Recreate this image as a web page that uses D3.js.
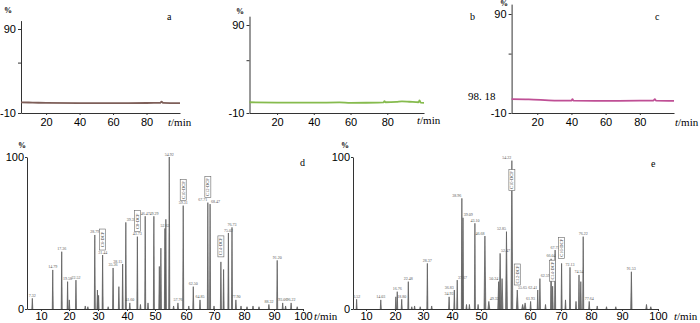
<!DOCTYPE html>
<html>
<head>
<meta charset="utf-8">
<script src="https://cdn.jsdelivr.net/npm/d3@7/dist/d3.min.js"></script>
<style>
html, body { margin: 0; padding: 0; background: #fff; }
svg { display: block; font-family: "Liberation Serif", "DejaVu Serif", serif; }
</style>
</head>
<body>
<svg id="chart" width="700" height="323"></svg>
<script>
// Achsen-Ticks
const topTicks = [20, 40, 60, 80];
const topYTicks = [-10, 50, 90];
const bottomTicks = [10, 20, 30, 40, 50, 60, 70, 80, 90, 100];

// Obere Spuren a, b, c: [t/min, %]
const traceA = [[5, 2.6], [12, 2.4], [20, 2.0], [40, 1.8], [60, 1.8], [80, 1.9], [88, 2.0], [89, 3.4], [90, 2.0], [100, 1.7]];
const traceB = [[5, 2.2], [20, 1.9], [40, 1.8], [54, 2.0], [60, 1.6], [75, 1.8], [78, 2.0], [78.5, 3.6], [79, 2.2], [85, 2.6], [88, 3.2], [92, 2.8], [97, 2.2], [97.6, 4.2], [98.2, 1.8], [100, 1.6]];
const traceC = [[5, 4.0], [15, 3.8], [30, 2.6], [40, 2.5], [40.6, 4.0], [41.2, 2.4], [60, 2.2], [80, 2.4], [88, 2.6], [88.8, 4.0], [89.5, 2.4], [100, 2.2]];

// Peaks d: [t (Achse), Höhe %, Beschriftung]
const peaksD = [
    [6.9, 7, "7.32"], [14.2, 25.7, "14.79"], [17.4, 37.7, "17.36"], [19.5, 18, "19.58"], [20.1, 6, ""],
    [22.4, 19, "22.52"], [25.6, 2, ""], [26.5, 1.5, ""], [28.9, 48.7, "28.79"], [29.8, 12.5, ""], [30.2, 9, ""],
    [31.6, 35.5, "31.44"], [33.5, 1.5, ""], [35.2, 27, "35.36"], [37.2, 14.7, ""], [38.5, 29.6, "38.15"],
    [39.6, 57, "39.39"], [41.0, 4, "41.60"], [43.7, 47.6, "43.73"], [44.8, 3, ""], [46.5, 61, "46.47"],
    [47.5, 4, ""], [49.6, 61, "49.29"], [51.4, 28, ""], [51.9, 40, ""], [53.2, 53, "52.62"], [53.5, 59, ""],
    [54.6, 100, "54.92"], [56.0, 2, ""], [57.4, 4, "57.76"], [59.1, 68, "59.31"], [61.0, 2, ""],
    [62.6, 14.7, "62.50"], [65.0, 6, "64.85"], [67.8, 70, "67.71"], [68.6, 69, "68.47"], [70.0, 2, ""],
    [72.3, 31, ""], [73.2, 26, ""], [74.8, 50, "75.02"], [76.0, 53.7, "76.73"], [77.3, 6, "77.90"],
    [79.0, 2, ""], [81.0, 1.5, ""], [83.0, 2, ""], [85.0, 1.5, ""], [88.3, 3, "88.32"], [91.1, 32, "91.20"],
    [93.0, 4, "93.06"], [94.0, 2, ""], [95.9, 4, "96.22"], [98.0, 1.5, ""]
];

// Peaks e: [t (Achse), Höhe %, Beschriftung]
const peaksE = [
    [6.4, 6.4, "6.52"], [15.1, 6, "14.03"], [20.3, 8, ""], [20.8, 11.4, "16.76"], [22.4, 6.4, "18.80"],
    [24.75, 18, "22.48"], [26, 1.5, ""], [27, 2, ""], [29, 1.5, ""], [31.5, 30, "28.37"], [33, 2, ""],
    [39.0, 8, "34.93"], [40.8, 12.5, "36.83"], [41.8, 19, "37.67"], [43.4, 72.8, "38.96"], [43.8, 60, "39.09"],
    [45, 3, ""], [46, 3, ""], [47.9, 56.4, "43.10"], [49, 3, ""], [50.8, 48, "46.68"], [51.6, 5, "49.32"],
    [53.6, 18, "50.24"], [53.9, 36.6, "52.47"], [54.3, 20, ""], [55.2, 50.9, "52.85"], [56.3, 97.6, "54.22"],
    [57.4, 12.5, "55.65"], [58.5, 3, ""], [59, 4, ""], [60.2, 5, "61.93"], [62.5, 12.5, "62.41"],
    [63.2, 20, "62.59"], [65, 3, ""], [66.8, 33, "66.04"], [67.3, 15, ""], [68.1, 38.8, "67.75"],
    [70.2, 30, ""], [71.5, 6, ""], [73, 27.4, "72.13"], [75, 5, ""], [76, 22.4, "74.54"], [76.6, 18, ""],
    [77.4, 47.6, "76.22"], [79.4, 5, "77.64"], [82, 2, ""], [85, 1.5, ""], [88, 1.5, ""],
    [92.6, 24.5, "91.53"], [96.8, 3, ""], [98, 1.5, ""]
];

// Kästchen mit Verbindungsnamen: [t des Peaks, Text]
const boxesD = [[31.6, "C6-DCP"], [43.7, "C8-DCP"], [59.1, "C10-DCP"], [67.8, "C12-DCP"], [72.3, "C14-DCP"]];
const boxesE = [[56.3, "C10-DCP"], [57.4, "C12-DCP"], [67.3, "C14-DCP"], [70.2, "C16-DCP"]];

const svg = d3.select("#chart");

// Obere Diagramme
function drawTop(trace, cfg) {
    const g = svg.append("g");
    const x = d3.scaleLinear().domain([5, 100]).range(cfg.xr);
    const y = d3.scaleLinear().domain([-10, 100]).range(cfg.yr);

    g.append("g")
        .attr("transform", `translate(0,${cfg.yr[0]})`)
        .call(d3.axisBottom(x).tickValues(topTicks).tickSize(2).tickSizeOuter(0).tickPadding(3))
        .call(a => a.selectAll("text").style("font-size", "11px"));

    g.append("g")
        .attr("transform", `translate(${cfg.xr[0]},0)`)
        .call(d3.axisLeft(y).tickValues(topYTicks).tickSize(3).tickSizeOuter(0).tickPadding(2)
            .tickFormat(d => d === 50 ? "" : String(d)))
        .call(a => a.selectAll("text").style("font-size", "11px"));

    g.selectAll(".domain, .tick line").attr("stroke", "#333");

    const line = d3.line().x(d => x(d[0])).y(d => y(d[1])).curve(d3.curveMonotoneX);
    g.append("path")
        .datum(trace)
        .attr("fill", "none")
        .attr("stroke", cfg.color)
        .attr("stroke-width", 1.8)
        .attr("d", line);

    g.append("text").attr("x", cfg.pct[0]).attr("y", cfg.pct[1])
        .style("font-size", "8px").style("font-weight", "bold").text("%");
    g.append("text").attr("x", cfg.letter[0]).attr("y", cfg.letter[1])
        .style("font-size", "10px").text(cfg.letter[2]);
    const u = g.append("text").attr("x", cfg.unit[0]).attr("y", cfg.unit[1]).style("font-size", "11px");
    u.append("tspan").style("font-style", "italic").text("t");
    u.append("tspan").text("/min");
}

drawTop(traceA, { xr: [21, 180], yr: [113, 20.6], color: "#7e5f59", pct: [4, 13], letter: [167, 20, "a"], unit: [168, 126] });
drawTop(traceB, { xr: [249.5, 424], yr: [113, 16.2], color: "#86bb4e", pct: [236, 14], letter: [470, 20, "b"], unit: [417, 124] });
drawTop(traceC, { xr: [511.6, 674], yr: [113, 4.1], color: "#bf4f95", pct: [500, 6], letter: [655, 20, "c"], unit: [675, 126] });

svg.append("text").attr("x", 468).attr("y", 100).style("font-size", "11px").text("98. 18");

// Untere Chromatogramme
function drawBottom(peaks, boxes, cfg) {
    const g = svg.append("g");
    const x = d3.scaleLinear().domain([5].concat(bottomTicks)).range(cfg.xr);
    const y = d3.scaleLinear().domain([0, 100]).range([309, 157]);

    g.append("g")
        .attr("transform", "translate(0,309)")
        .call(d3.axisBottom(x).tickValues(bottomTicks).tickSize(2).tickSizeOuter(0).tickPadding(1))
        .call(a => a.selectAll("text").style("font-size", "11px"));

    g.append("g")
        .attr("transform", `translate(${cfg.xr[0]},0)`)
        .call(d3.axisLeft(y).tickValues([0, 100]).tickSize(2).tickSizeOuter(0).tickPadding(1))
        .call(a => a.selectAll("text").style("font-size", "11px"));

    g.selectAll(".domain, .tick line").attr("stroke", "#333");

    const spike = d3.line().x(d => x(d[0])).y(d => y(d[1]));
    g.append("g")
        .selectAll("path")
        .data(peaks)
        .join("path")
        .attr("d", d => spike([[d[0] - 0.18, 0], [d[0], d[1]], [d[0] + 0.18, 0]]))
        .attr("fill", "#777")
        .attr("stroke", "#555")
        .attr("stroke-width", 0.7);

    // Beschriftung: bei eng benachbarten Peaks links/rechts ausweichen
    const labelled = peaks.filter(d => d[2]);
    const anchorOf = (d, i) => {
        const prev = labelled[i - 1], next = labelled[i + 1];
        if (next && next[0] - d[0] < 1.2) return "end";
        if (prev && d[0] - prev[0] < 1.2) return "start";
        return "middle";
    };
    g.append("g")
        .selectAll("text")
        .data(labelled)
        .join("text")
        .attr("x", (d, i) => {
            const a = anchorOf(d, i);
            return x(d[0]) + (a === "end" ? -0.5 : a === "start" ? 0.8 : 0);
        })
        .attr("y", d => y(d[1]) - 1.5)
        .attr("text-anchor", (d, i) => anchorOf(d, i))
        .style("font-size", "4px")
        .style("fill", "#555")
        .text(d => d[2]);

    // Kästchen über den Peaks
    boxes.forEach(([t, name]) => {
        const p = peaks.find(d => d[0] === t);
        const cx = x(t);
        const bottom = p[1] > 90 ? y(p[1]) + 30 : y(p[1]) - 5;
        const bg = g.append("g");
        bg.append("rect")
            .attr("x", cx - 3).attr("y", bottom - 21)
            .attr("width", 6).attr("height", 21)
            .attr("fill", "#fff").attr("stroke", "#666").attr("stroke-width", 0.6);
        bg.append("text")
            .attr("transform", `translate(${cx + 1.5},${bottom - 10.5}) rotate(-90)`)
            .attr("text-anchor", "middle")
            .style("font-size", "4.5px")
            .style("fill", "#444")
            .text(name);
    });

    g.append("text").attr("x", cfg.pct[0]).attr("y", cfg.pct[1])
        .style("font-size", "8px").style("font-weight", "bold").text("%");
    g.append("text").attr("x", cfg.letter[0]).attr("y", cfg.letter[1])
        .style("font-size", "10px").text(cfg.letter[2]);
    const u = g.append("text").attr("x", cfg.unit[0]).attr("y", cfg.unit[1]).style("font-size", "11px");
    u.append("tspan").style("font-style", "italic").text("t");
    u.append("tspan").text("/min");
}

drawBottom(peaksD, boxesD, { xr: [27, 41, 69, 98, 127, 155, 186, 214, 244, 274, 303], pct: [18, 148], letter: [300, 166, "d"], unit: [314, 320] });
drawBottom(peaksE, boxesE, { xr: [353, 366, 395, 423, 452, 481, 530, 561, 591, 622, 658], pct: [341, 148], letter: [651, 167, "e"], unit: [674, 320] });
</script>
</body>
</html>
